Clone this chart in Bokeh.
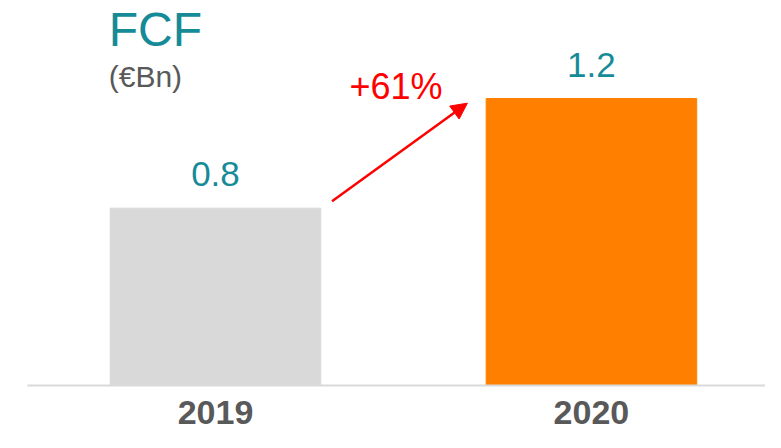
from bokeh.plotting import figure
from bokeh.models import Range1d, ColumnDataSource, LabelSet, Label, Arrow, NormalHead, FixedTicker
from bokeh.core.properties import value
from bokeh.embed import file_html
from bokeh.resources import INLINE

# ---- data ----
years = ["2019", "2020"]
fcf = [0.76, 1.23]
value_labels = [f"{v:.1f}" for v in fcf]
bar_colors = ["#d9d9d9", "#ff8000"]
growth_label = "+61%"
title_text = "FCF"
unit_text = "(€Bn)"

TEAL = "#168b98"
GREY_TXT = "#595959"
FONT = "Liberation Sans"
BAR_W = 0.56

xpos = [i + 0.5 for i in range(len(years))]

p = figure(x_range=Range1d(0, 1.963), y_range=Range1d(0, 1.650),
           width=765, height=432, output_backend="svg", toolbar_location=None,
           y_axis_location=None, min_border_left=27, min_border_right=0,
           min_border_top=0, min_border_bottom=47)
p.outline_line_color = None
p.xgrid.visible = False
p.ygrid.visible = False
p.background_fill_color = "white"
p.border_fill_color = "white"

src = ColumnDataSource(dict(x=xpos, year=years, fcf=fcf, color=bar_colors, lab=value_labels))
p.vbar(x="x", top="fcf", width=BAR_W, color="color", source=src)

ax = p.xaxis[0]
ax.ticker = FixedTicker(ticks=xpos)
ax.major_label_overrides = {x: y for x, y in zip(xpos, years)}
ax.axis_line_color = "#d9d9d9"
ax.axis_line_width = 2
ax.major_tick_line_color = None
ax.minor_tick_line_color = None
ax.major_tick_out = 0
ax.major_tick_in = 0
ax.major_label_standoff = 15
ax.major_label_text_font = FONT
ax.major_label_text_font_size = "34px"
ax.major_label_text_font_style = "bold"
ax.major_label_text_color = GREY_TXT

p.add_layout(LabelSet(x="x", y="fcf", text="lab", source=src, y_offset=22,
                      text_align="center", text_baseline="alphabetic",
                      text_font=value(FONT), text_font_size="35px", text_color=TEAL))

# growth arrow between bars
x0 = xpos[0] + BAR_W / 2 + 0.03
y0 = fcf[0] + 0.03
x1 = xpos[1] - BAR_W / 2 - 0.05
y1 = fcf[1] - 0.02
p.add_layout(Arrow(x_start=x0, y_start=y0, x_end=x1, y_end=y1,
                   line_color="#ff0000", line_width=2.5,
                   end=NormalHead(size=16, fill_color="#ff0000", line_color="#ff0000")))
p.add_layout(Label(x=(x0 + x1) / 2 - 0.01, y=y1 + 0.072, text=growth_label, text_align="center",
                   text_baseline="middle", text_font=FONT, text_font_size="36px",
                   text_color="#ff0000"))

# title
p.add_layout(Label(x=0.216, y=1.524, text=title_text, text_align="left",
                   text_baseline="middle", text_font=FONT, text_font_size="48px",
                   text_color=TEAL))
p.add_layout(Label(x=0.216, y=1.324, text=unit_text, text_align="left",
                   text_baseline="middle", text_font=FONT, text_font_size="30px",
                   text_color=GREY_TXT))

open("out.html", "w").write(file_html(p, INLINE))
